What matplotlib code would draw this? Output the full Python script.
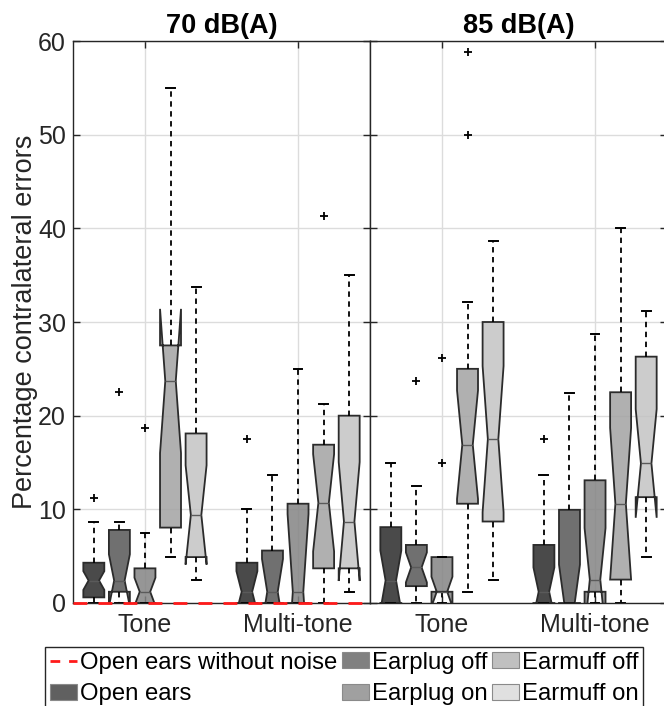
import numpy as np
import matplotlib
matplotlib.use('Agg')
import matplotlib.pyplot as plt
from matplotlib.patches import Patch
from matplotlib.lines import Line2D

plt.rcParams['font.family'] = ['Liberation Sans', 'DejaVu Sans']

levels = ['70 dB(A)', '85 dB(A)']
groups = ['Tone', 'Multi-tone']
conditions = ['Open ears', 'Earplug off', 'Earplug on', 'Earmuff off', 'Earmuff on']
baseline_label = 'Open ears without noise'
baseline_value = 0.0

# box statistics, one list per condition order
q1_70_tone = [0.6, 1.2, 0.0, 8.05, 4.9]
med_70_tone = [2.4, 2.4, 1.2, 23.7, 9.4]
q3_70_tone = [4.3, 7.8, 3.7, 27.5, 18.1]
lo_70_tone = [0, 0, 0, 4.9, 2.5]
hi_70_tone = [8.7, 8.7, 7.5, 55.0, 33.7]
cilo_70_tone = [1.4, -0.4, -0.3, 16.0, 4.1]
cihi_70_tone = [3.4, 5.2, 2.7, 31.4, 14.7]
out_70_tone = [[11.2], [22.5], [18.7], [], []]

q1_70_multi = [0, 0, 0, 3.7, 3.7]
med_70_multi = [1.2, 1.2, 1.2, 10.7, 8.7]
q3_70_multi = [4.3, 5.6, 10.6, 16.9, 20.0]
lo_70_multi = [0, 0, 0, 0, 1.2]
hi_70_multi = [10.0, 13.7, 25.0, 21.2, 35.0]
cilo_70_multi = [-1.0, -2.3, -7.1, 5.5, 2.35]
cihi_70_multi = [3.4, 4.7, 9.5, 15.9, 15.05]
out_70_multi = [[17.5], [], [], [41.3], []]

q1_85_tone = [0, 1.8, 1.2, 10.6, 8.7]
med_85_tone = [2.4, 3.8, 1.2, 16.9, 17.5]
q3_85_tone = [8.1, 6.2, 4.9, 25.0, 30.0]
lo_85_tone = [0, 0, 0, 1.2, 2.5]
hi_85_tone = [14.9, 12.5, 4.9, 32.1, 38.7]
cilo_85_tone = [-0.8, 2.2, -0.4, 11.1, 9.7]
cihi_85_tone = [5.6, 5.4, 2.8, 22.7, 25.3]
out_85_tone = [[], [23.7], [14.9, 26.2], [50.0, 58.8], []]

q1_85_multi = [0, 0, 1.2, 2.5, 11.3]
med_85_multi = [1.2, 0, 2.5, 10.6, 14.9]
q3_85_multi = [6.2, 9.95, 13.1, 22.5, 26.3]
lo_85_multi = [0, 0, 0, 0, 4.95]
hi_85_multi = [13.7, 22.4, 28.7, 40.0, 31.2]
cilo_85_multi = [-1.4, -4.1, -3.1, 2.5, 9.1]
cihi_85_multi = [3.8, 4.1, 8.0, 18.7, 20.7]
out_85_multi = [[17.5], [], [], [], []]

box_colors = ['#2a2a2a', '#575757', '#848484', '#a3a3a3', '#c3c3c3']
legend_colors = ['#606060', '#808080', '#a0a0a0', '#c0c0c0', '#e0e0e0']

panels = [
    [(q1_70_tone, med_70_tone, q3_70_tone, lo_70_tone, hi_70_tone, cilo_70_tone, cihi_70_tone, out_70_tone),
     (q1_70_multi, med_70_multi, q3_70_multi, lo_70_multi, hi_70_multi, cilo_70_multi, cihi_70_multi, out_70_multi)],
    [(q1_85_tone, med_85_tone, q3_85_tone, lo_85_tone, hi_85_tone, cilo_85_tone, cihi_85_tone, out_85_tone),
     (q1_85_multi, med_85_multi, q3_85_multi, lo_85_multi, hi_85_multi, cilo_85_multi, cihi_85_multi, out_85_multi)],
]

dark = '#262626'
fig = plt.figure(figsize=(6.64, 7.06), dpi=100)
W, H = 664, 706
ax_l = fig.add_axes([73 / W, 1 - 603 / H, 297 / W, 562 / H])
ax_r = fig.add_axes([370 / W, 1 - 603 / H, 297 / W, 562 / H])

offsets = (np.arange(5) - 2) * 0.167
bw = 0.137

for ax, level, panel in zip([ax_l, ax_r], levels, panels):
    for gi, stats in enumerate(panel):
        q1, med, q3, lo, hi, cilo, cihi, outs = stats
        bxp = []
        for k in range(5):
            bxp.append(dict(q1=q1[k], med=med[k], q3=q3[k], whislo=lo[k], whishi=hi[k],
                            cilo=cilo[k], cihi=cihi[k], fliers=outs[k]))
        pos = gi + 1 + offsets
        res = ax.bxp(bxp, positions=pos, widths=bw, patch_artist=True, shownotches=True,
                     manage_ticks=False, capwidths=0.058,
                     boxprops=dict(edgecolor='#2b2b2b', linewidth=1.3),
                     whiskerprops=dict(color='black', linewidth=1.3, linestyle=(0, (3, 2.5))),
                     capprops=dict(color='black', linewidth=1.4),
                     medianprops=dict(color='#5a5a5a', linewidth=1.0),
                     flierprops=dict(marker='+', markersize=6, markeredgewidth=1.3,
                                     markeredgecolor='black', linestyle='none'))
        for patch, c in zip(res['boxes'], box_colors):
            rgb = matplotlib.colors.to_rgb(c)
            patch.set_facecolor((*rgb, 0.85))
        for med_line in res['medians']:
            med_line.set_zorder(3)
    ax.set_xlim(0.53, 2.47)
    ax.set_ylim(0, 60)
    ax.set_xticks([1, 2])
    ax.set_xticklabels(groups)
    ax.set_yticks(np.arange(0, 61, 10))
    ax.set_axisbelow(True)
    ax.grid(True, color='#dcdcdc', linewidth=1.0)
    ax.tick_params(direction='in', length=5, width=1, colors=dark, labelsize=18,
                   top=True, right=True, pad=5)
    ax.tick_params(axis='x', pad=7)
    for sp in ax.spines.values():
        sp.set_color(dark)
        sp.set_linewidth(1.0)
    ax.set_title(level, fontsize=19.5, fontweight='bold', pad=6)

ax_r.set_yticklabels([])
ax_l.set_ylabel('Percentage contralateral errors', fontsize=19.5, color=dark, labelpad=0)

# reference without noise
ax_l.plot([0.53, 2.47], [baseline_value, baseline_value], color='#ff1a1a', linewidth=2.0,
          linestyle=(0, (5, 4)), zorder=5, clip_on=False)

handles = [Line2D([0], [0], color='#ff1a1a', linewidth=2.0, linestyle=(0, (3.5, 3.2)))]
labels = [baseline_label]
for name, c in zip(conditions, legend_colors):
    handles.append(Patch(facecolor=c, edgecolor='#8a8a8a', linewidth=0.8))
    labels.append(name)

leg = fig.legend(handles, labels, ncol=3, loc='upper left', bbox_to_anchor=(45 / W, 1 - 647 / H),
                 fontsize=17.2, frameon=True, fancybox=False, framealpha=1, edgecolor=dark,
                 handlelength=1.15, handleheight=0.65, handletextpad=0.1, columnspacing=0.2,
                 labelspacing=0.4, borderpad=0.2, borderaxespad=0)
leg.get_frame().set_linewidth(1.0)

fig.savefig('out.png', dpi=100)
